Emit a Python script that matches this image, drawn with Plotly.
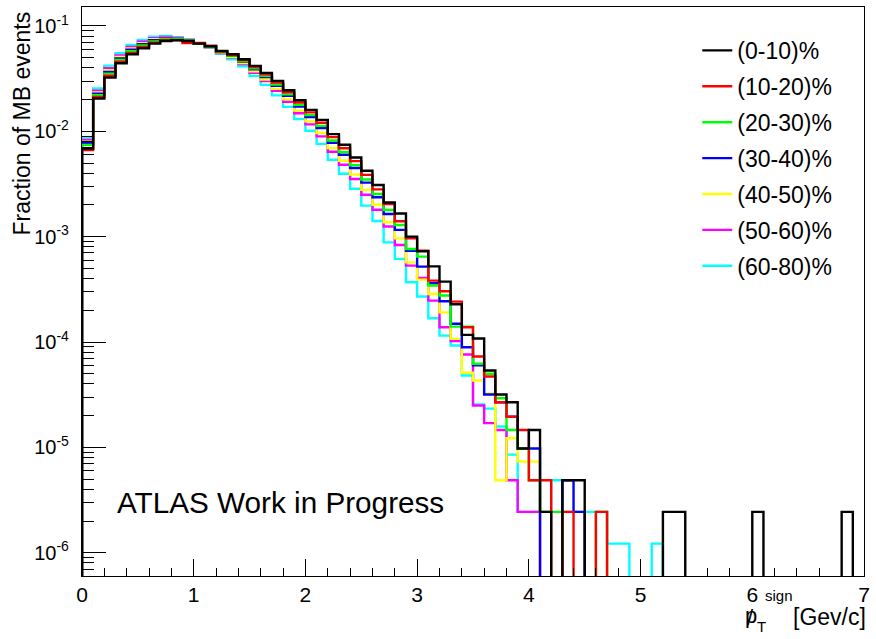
import plotly.graph_objects as go

# ---------------- data ----------------
bin_width = 0.1
n_bins = 70
x_min, x_max = 0.0, 7.0

labels = ["(0-10)%", "(10-20)%", "(20-30)%", "(30-40)%", "(40-50)%", "(50-60)%", "(60-80)%"]
colors = ["#000000", "#ff0000", "#00ff00", "#0000ff", "#ffff00", "#ff00ff", "#00ffff"]

c0_10 = [0.00687, 0.02046, 0.03236, 0.04430, 0.05393, 0.06146, 0.06795, 0.07207, 0.07319, 0.07207,
         0.06795, 0.06421, 0.05794, 0.05393, 0.04835, 0.04177, 0.03585, 0.03011, 0.02457, 0.01975,
         0.01599, 0.01285, 0.00941, 0.00745, 0.00565, 0.00423, 0.00309, 0.00211, 0.00166, 0.00100,
         0.000726, 0.000522, 0.000374, 0.000228, 0.000117, 0.000108, 5.37e-5, 3.18e-5, 2.68e-5, 9.76e-6,
         1.46e-5, 2.44e-6, 0, 4.88e-6, 4.88e-6, 0, 0, 0, 0, 0,
         0, 0, 2.44e-6, 2.44e-6, 0, 0, 0, 0, 0, 0,
         2.44e-6, 0, 0, 0, 0, 0, 0, 0, 2.44e-6, 0]

c10_20 = [0.00665, 0.02114, 0.03366, 0.04577, 0.05559, 0.06316, 0.06953, 0.07326, 0.07350, 0.06880,
          0.06880, 0.06500, 0.05749, 0.05322, 0.04746, 0.04069, 0.03475, 0.02899, 0.02352, 0.01880,
          0.01513, 0.01207, 0.00880, 0.00690, 0.00521, 0.00386, 0.00281, 0.00204, 0.00140, 0.000964,
          0.000736, 0.000383, 0.000303, 0.000242, 0.000138, 7.29e-5, 4.71e-5, 2.68e-5, 1.95e-5, 1.46e-5,
          4.88e-6, 4.88e-6, 0, 2.44e-6, 0, 0, 2.44e-6, 0, 0, 0,
          0, 0, 0, 0, 0, 0, 0, 0, 0, 0,
          0, 0, 0, 0, 0, 0, 0, 0, 0, 0]

c20_30 = [0.00744, 0.02199, 0.03528, 0.04761, 0.05766, 0.06526, 0.07146, 0.07472, 0.07480, 0.07286,
          0.06790, 0.06368, 0.05700, 0.05247, 0.04653, 0.03955, 0.03358, 0.02782, 0.02243, 0.01781,
          0.01426, 0.01127, 0.00818, 0.00636, 0.00476, 0.00349, 0.00254, 0.00179, 0.00129, 0.000764,
          0.000646, 0.000344, 0.000276, 0.000140, 0.000140, 6.21e-5, 5.00e-5, 2.93e-5, 1.46e-5, 9.76e-6,
          4.88e-6, 2.44e-6, 2.44e-6, 0, 0, 0, 2.44e-6, 0, 0, 0,
          0, 0, 0, 0, 0, 0, 0, 0, 0, 0,
          0, 0, 0, 0, 0, 0, 0, 0, 0, 0]

c30_40 = [0.00771, 0.02273, 0.03670, 0.04920, 0.05944, 0.06705, 0.07313, 0.07596, 0.07553, 0.07320,
          0.06800, 0.06350, 0.05666, 0.05197, 0.04589, 0.03879, 0.03280, 0.02704, 0.02171, 0.01716,
          0.01368, 0.01075, 0.00778, 0.00600, 0.00448, 0.00326, 0.00237, 0.00164, 0.00116, 0.000736,
          0.000520, 0.000361, 0.000244, 0.000149, 8.93e-5, 6.00e-5, 3.18e-5, 2.68e-5, 1.95e-5, 9.76e-6,
          9.76e-6, 0, 0, 4.88e-6, 2.44e-6, 0, 0, 0, 0, 0,
          0, 0, 0, 0, 0, 0, 0, 0, 0, 0,
          0, 0, 0, 0, 0, 0, 0, 0, 0, 0]

c40_50 = [0.00797, 0.02343, 0.03806, 0.05072, 0.06116, 0.06877, 0.07472, 0.07713, 0.07622, 0.07355,
          0.06780, 0.06307, 0.05590, 0.05078, 0.04445, 0.03705, 0.03105, 0.02530, 0.02011, 0.01573,
          0.01243, 0.00963, 0.00692, 0.00526, 0.00388, 0.00278, 0.00201, 0.00137, 0.000964, 0.000570,
          0.000391, 0.000286, 0.000191, 0.000107, 5.11e-5, 4.31e-5, 3.25e-5, 4.88e-6, 1.22e-5, 7.32e-6,
          7.32e-6, 0, 0, 0, 0, 0, 0, 0, 0, 0,
          0, 0, 0, 0, 0, 0, 0, 0, 0, 0,
          0, 0, 0, 0, 0, 0, 0, 0, 0, 0]

c50_60 = [0.00829, 0.02426, 0.03969, 0.05252, 0.06318, 0.07079, 0.07656, 0.07849, 0.07704, 0.07394,
          0.06790, 0.06278, 0.05539, 0.05002, 0.04350, 0.03593, 0.02992, 0.02420, 0.01911, 0.01484,
          0.01165, 0.00895, 0.00639, 0.00481, 0.00353, 0.00250, 0.00180, 0.00125, 0.000834, 0.000531,
          0.000406, 0.000247, 0.000138, 0.000102, 7.62e-5, 2.50e-5, 1.70e-5, 1.46e-5, 4.88e-6, 2.44e-6,
          2.44e-6, 0, 0, 0, 0, 0, 0, 0, 0, 0,
          0, 0, 0, 0, 0, 0, 0, 0, 0, 0,
          0, 0, 0, 0, 0, 0, 0, 0, 0, 0]

c60_80 = [0.00874, 0.02545, 0.04204, 0.05510, 0.06607, 0.07367, 0.07918, 0.08039, 0.07814, 0.07447,
          0.06770, 0.06215, 0.05428, 0.04835, 0.04150, 0.03358, 0.02760, 0.02194, 0.01707, 0.01305,
          0.01011, 0.00760, 0.00538, 0.00395, 0.00285, 0.00197, 0.00141, 0.000883, 0.000615, 0.000369,
          0.000270, 0.000168, 0.000115, 9.27e-5, 4.81e-5, 2.56e-5, 2.33e-5, 1.58e-5, 8.54e-6, 2.44e-6,
          2.44e-6, 2.44e-6, 4.88e-6, 2.44e-6, 2.44e-6, 2.44e-6, 2.44e-6, 1.22e-6, 1.22e-6, 0,
          0, 1.22e-6, 0, 0, 0, 0, 0, 0, 0, 0,
          0, 0, 0, 0, 0, 0, 0, 0, 0, 0]

series = [c0_10, c10_20, c20_30, c30_40, c40_50, c50_60, c60_80]

y_tick_vals = [1e-6, 1e-5, 1e-4, 1e-3, 1e-2, 1e-1]
y_tick_text = ["10<sup>-6</sup>", "10<sup>-5</sup>", "10<sup>-4</sup>",
               "10<sup>-3</sup>", "10<sup>-2</sup>", "10<sup>-1</sup>"]

# ---------------- figure ----------------
edges = [x_min + i * bin_width for i in range(n_bins + 1)]
FLOOR = 1e-9  # empty bins: drawn down to (below) the frame, like ROOT

fig = go.Figure()
for idx in reversed(range(len(series))):
    vals = [v if v > 0 else FLOOR for v in series[idx]]
    xs = [edges[0]] + edges[:n_bins] + [edges[n_bins]]
    ys = [FLOOR] + vals + [vals[-1]]
    fig.add_trace(go.Scatter(
        x=xs, y=ys, mode="lines",
        line=dict(shape="hv", color=colors[idx], width=2.4),
        name=labels[idx], legendrank=idx + 1, legendgroup=labels[idx],
        hoverinfo="skip",
    ))

minor_vals = [m * 10.0 ** e for e in range(-7, 0) for m in range(2, 10)]

FONT = "Liberation Sans, Arial, Helvetica, sans-serif"
L, R, T, B = 82, 6, 6, 63
W, H = 876, 639
pw, ph = W - L - R, H - T - B


def px_x(px):
    return (px - L) / pw


def px_y(py):
    return (H - B - py) / ph


fig.update_layout(
    width=W, height=H,
    margin=dict(l=L, r=R, t=T, b=B),
    paper_bgcolor="white", plot_bgcolor="white",
    font=dict(family=FONT, color="black"),
    showlegend=True,
    legend=dict(x=px_x(702), y=px_y(28), xanchor="left", yanchor="top",
                font=dict(size=23, family=FONT), bgcolor="rgba(0,0,0,0)",
                tracegroupgap=3, itemwidth=30),
    xaxis=dict(range=[x_min, x_max], showline=True, linecolor="black", linewidth=1.3,
               mirror=True, ticks="inside", ticklen=17, tickwidth=1.3, tickcolor="black",
               tick0=0, dtick=1, tickfont=dict(size=21), showgrid=False, zeroline=False,
               minor=dict(ticks="inside", ticklen=8, tick0=0, dtick=0.2, tickwidth=1.3,
                          tickcolor="black", showgrid=False)),
    yaxis=dict(type="log", range=[-6.221, -0.82], showline=True, linecolor="black",
               linewidth=1.3, mirror=True, ticks="inside", ticklen=24, tickwidth=1.3,
               tickcolor="black", tickmode="array", tickvals=y_tick_vals, ticktext=y_tick_text,
               tickfont=dict(size=20), showgrid=False, zeroline=False, ticklabelstandoff=8,
               minor=dict(ticks="inside", ticklen=12, tickmode="array", tickvals=minor_vals,
                          tickwidth=1.3, tickcolor="black", showgrid=False)),
)

ann = [
    dict(text="ATLAS Work in Progress", x=px_x(115), y=px_y(502), xanchor="left",
         yanchor="middle", font=dict(size=29.7)),
    dict(text="Fraction of MB events", textangle=-90, x=px_x(22), y=px_y(8),
         xanchor="center", yanchor="top", font=dict(size=23)),
    dict(text="p", x=px_x(756), y=px_y(616), xanchor="center", yanchor="middle",
         font=dict(size=22)),
    dict(text="/", x=px_x(756), y=px_y(618), xanchor="center", yanchor="middle",
         font=dict(size=22)),
    dict(text="T", x=px_x(767), y=px_y(627), xanchor="center", yanchor="middle",
         font=dict(size=15)),
    dict(text="sign", x=px_x(784), y=px_y(596), xanchor="center", yanchor="middle",
         font=dict(size=15)),
    dict(text="[Gev/c]", x=px_x(796), y=px_y(617), xanchor="left", yanchor="middle",
         font=dict(size=23)),
]
for a in ann:
    a.update(xref="paper", yref="paper", showarrow=False)
fig.update_layout(annotations=ann)

fig.write_html("out.html")
